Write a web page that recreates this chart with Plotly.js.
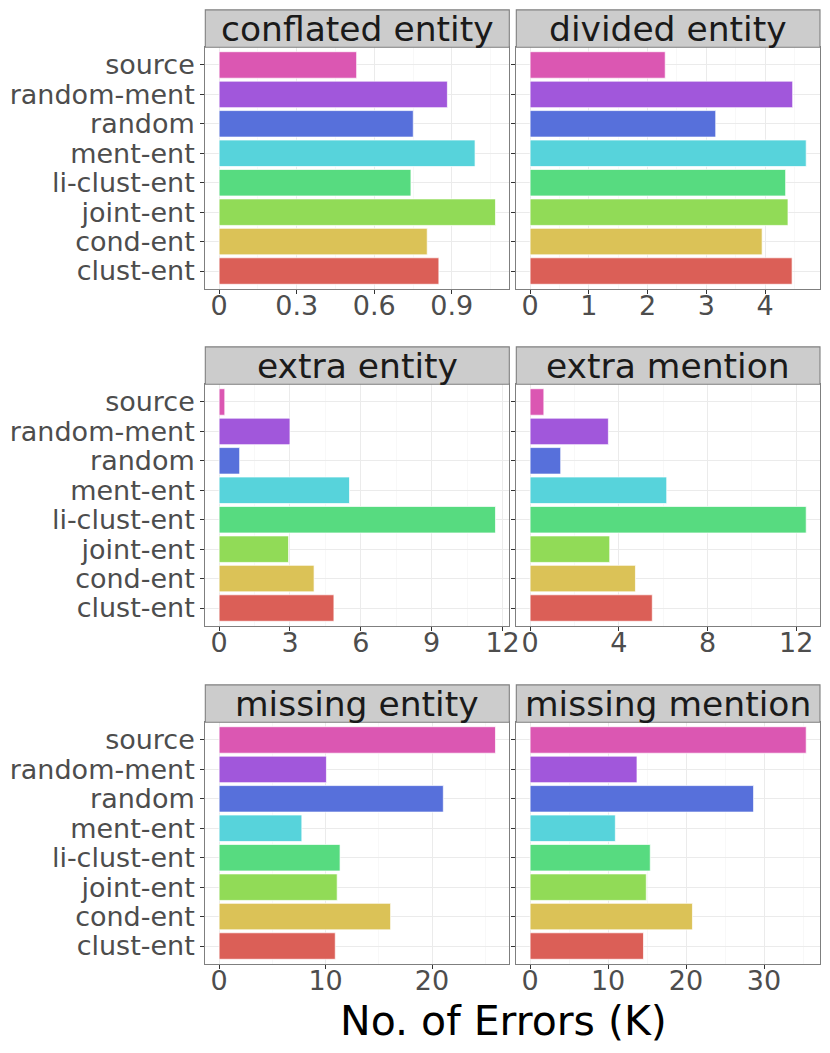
<!DOCTYPE html>
<html>
<head>
<meta charset="utf-8">
<script src="https://cdn.plot.ly/plotly-3.0.1.min.js"></script>
<style>
  html, body { margin: 0; padding: 0; background: #fff; }
  #myDiv { width: 830px; height: 1053px; }
</style>
</head>
<body>
<div id="myDiv"></div>
<script>
  // categories, bottom to top
  var methods = ['clust-ent', 'cond-ent', 'joint-ent', 'li-clust-ent', 'ment-ent', 'random', 'random-ment', 'source'];
  var colors = ['#db5f57', '#dbc257', '#91db57', '#57db80', '#57d3db', '#5770db', '#a157db', '#db57b2'];

  // No. of errors (K), same order as methods
  var conflatedEntity = [0.850, 0.805, 1.069, 0.742, 0.990, 0.751, 0.883, 0.532];
  var dividedEntity   = [4.46, 3.95, 4.39, 4.35, 4.70, 3.16, 4.47, 2.30];
  var extraEntity     = [4.86, 4.02, 2.94, 11.70, 5.52, 0.87, 3.00, 0.24];
  var extraMention    = [5.51, 4.75, 3.59, 12.45, 6.16, 1.38, 3.53, 0.62];
  var missingEntity   = [10.91, 16.11, 11.09, 11.36, 7.77, 21.06, 10.08, 25.96];
  var missingMention  = [14.54, 20.82, 14.90, 15.41, 10.93, 28.66, 13.71, 35.41];

  var panelTitles = ['conflated entity', 'divided entity', 'extra entity', 'extra mention', 'missing entity', 'missing mention'];
  var panelValues = [conflatedEntity, dividedEntity, extraEntity, extraMention, missingEntity, missingMention];
  var panelDticks = [0.3, 1, 3, 4, 10, 10];

  var W = 830, H = 1053;
  var colX = [[205.3, 509.3], [516.3, 820]];
  var rowY = [[47.3, 288.7], [384.3, 625.7], [722.3, 963.7]];
  var stripH = 37.4;

  var font = 'DejaVu Sans';
  var data = [];
  var layout = {
    width: W, height: H,
    margin: {l: 0, r: 0, t: 0, b: 0},
    paper_bgcolor: '#fff',
    plot_bgcolor: '#fff',
    showlegend: false,
    bargap: 0.1,
    font: {family: font, color: '#4d4d4d'},
    shapes: [],
    annotations: []
  };

  for (var i = 0; i < 6; i++) {
    var r = Math.floor(i / 2), c = i % 2;
    var n = i + 1;
    var xa = 'xaxis' + (n === 1 ? '' : n), ya = 'yaxis' + (n === 1 ? '' : n);
    var xr = 'x' + (n === 1 ? '' : n), yr = 'y' + (n === 1 ? '' : n);
    var vals = panelValues[i];
    var mx = Math.max.apply(null, vals);

    data.push({
      type: 'bar',
      orientation: 'h',
      x: vals,
      y: methods,
      xaxis: xr,
      yaxis: yr,
      marker: {color: colors, line: {color: 'rgba(255,255,255,0.7)', width: 1}},
      hoverinfo: 'x+y'
    });

    layout[xa] = {
      domain: [colX[c][0] / W, colX[c][1] / W],
      anchor: yr,
      range: [-0.05 * mx, 1.05 * mx],
      tick0: 0,
      dtick: panelDticks[i],
      ticks: 'outside',
      ticklen: 4,
      tickcolor: '#333333',
      ticklabelstandoff: -11,
      tickfont: {family: font, size: 27, color: '#4d4d4d'},
      showgrid: true,
      gridcolor: '#ebebeb',
      gridwidth: 1,
      minor: {dtick: panelDticks[i] / 2, tick0: 0, showgrid: true, gridcolor: '#f4f4f4', gridwidth: 0.6},
      zeroline: false,
      showline: true,
      mirror: true,
      linecolor: '#7f7f7f',
      linewidth: 1.1,
      fixedrange: true
    };

    layout[ya] = {
      domain: [1 - rowY[r][1] / H, 1 - rowY[r][0] / H],
      anchor: xr,
      type: 'category',
      categoryorder: 'array',
      categoryarray: methods,
      tickmode: 'array',
      tickvals: methods,
      ticktext: methods,
      range: [-0.6, 7.6],
      ticks: 'outside',
      ticklen: 4,
      tickcolor: '#333333',
      showticklabels: c === 0,
      tickfont: {family: font, size: 27, color: '#4d4d4d'},
      showgrid: true,
      gridcolor: '#ebebeb',
      gridwidth: 1,
      zeroline: false,
      showline: true,
      mirror: true,
      linecolor: '#7f7f7f',
      linewidth: 1.1,
      fixedrange: true
    };

    // facet strip
    var stripTop = rowY[r][0] - stripH;
    layout.shapes.push({
      type: 'rect', xref: 'paper', yref: 'paper', layer: 'above',
      x0: colX[c][0] / W, x1: colX[c][1] / W,
      y0: 1 - rowY[r][0] / H, y1: 1 - stripTop / H,
      fillcolor: '#cccccc',
      line: {color: '#7f7f7f', width: 1.1}
    });
    layout.annotations.push({
      xref: 'paper', yref: 'paper',
      x: (colX[c][0] + colX[c][1]) / 2 / W,
      y: 1 - (stripTop + stripH / 2) / H,
      xanchor: 'center', yanchor: 'middle',
      text: panelTitles[i],
      showarrow: false,
      font: {family: font, size: 34.5, color: '#1a1a1a'}
    });
  }

  layout.annotations.push({
    xref: 'paper', yref: 'paper',
    x: 503 / W, y: 1 - 1021 / H,
    xanchor: 'center', yanchor: 'middle',
    text: 'No. of Errors (K)',
    showarrow: false,
    font: {family: font, size: 41, color: '#000000'}
  });

  Plotly.newPlot('myDiv', data, layout, {displayModeBar: false, staticPlot: true});
</script>
</body>
</html>
